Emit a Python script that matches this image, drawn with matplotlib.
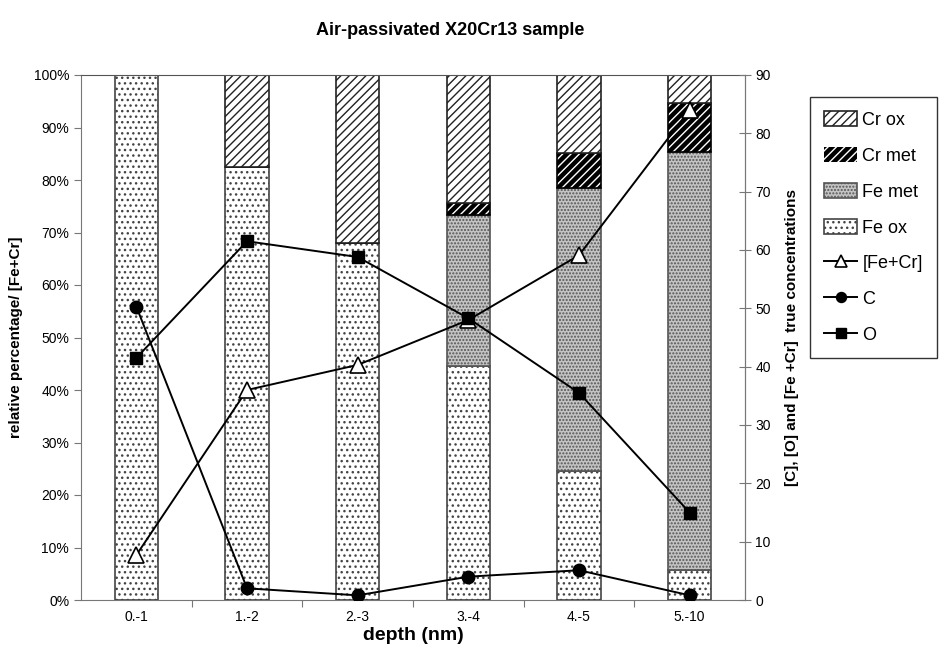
import numpy as np
import matplotlib.pyplot as plt
from matplotlib.ticker import PercentFormatter, MultipleLocator

plt.rcParams['font.family'] = ['Liberation Sans', 'DejaVu Sans']
plt.rcParams['hatch.linewidth'] = 1.0

# depth intervals
depths = ['0.-1', '1.-2', '2.-3', '3.-4', '4.-5', '5.-10']

# relative percentages (stacked, bottom to top)
fe_ox = [100.0, 82.5, 68.0, 44.5, 24.5, 5.7]
fe_met = [0.0, 0.0, 0.0, 28.8, 54.0, 79.7]
cr_met = [0.0, 0.0, 0.0, 2.3, 6.7, 9.3]
cr_ox = [0.0, 17.5, 32.0, 24.4, 14.8, 5.3]

# true concentrations (right axis)
fe_cr = [7.7, 36.0, 40.3, 48.0, 59.1, 84.0]
conc_c = [50.3, 2.0, 0.8, 4.0, 5.1, 0.8]
conc_o = [41.5, 61.5, 58.8, 48.3, 35.5, 15.0]

x = np.arange(len(depths))
w = 0.39

fig = plt.figure(figsize=(9.42, 6.57), dpi=100)
ax = fig.add_axes([81/942, 57/657, 664/942, 525/657])

b0 = np.zeros(len(x))
h_feox = ax.bar(x, fe_ox, w, bottom=b0, facecolor='white', edgecolor='#444444',
                hatch='...', linewidth=1.2, label='Fe ox')
b0 = b0 + fe_ox
h_femet = ax.bar(x, fe_met, w, bottom=b0, facecolor='#c4c4c4', edgecolor='#555555',
                 hatch='.....', linewidth=1.2, label='Fe met')
b0 = b0 + fe_met
# Cr met: black with white hatch, outline drawn separately
h_crmet = ax.bar(x, cr_met, w, bottom=b0, facecolor='black', edgecolor='white',
                 hatch='////', linewidth=0, label='Cr met')
ax.bar(x, cr_met, w, bottom=b0, facecolor='none', edgecolor='black', linewidth=1.2)
b0 = b0 + cr_met
h_crox = ax.bar(x, cr_ox, w, bottom=b0, facecolor='white', edgecolor='#222222',
                hatch='////', linewidth=1.2, label='Cr ox')

ax.set_xlim(-0.5, len(x) - 0.5)
ax.set_ylim(0, 100)
ax.yaxis.set_major_locator(MultipleLocator(10))
ax.yaxis.set_major_formatter(PercentFormatter(decimals=0))
ax.set_xticks(np.arange(len(x) - 1) + 0.5)
ax.set_xticklabels([])
ax.set_xticks(x, minor=True)
ax.set_xticklabels(depths, minor=True)
ax.tick_params(axis='x', which='minor', length=0, pad=7, labelsize=10)
ax.tick_params(axis='x', which='major', length=5, direction='out', color='#777777')
ax.tick_params(axis='y', length=5, direction='out', labelsize=10, color='#777777')
for s in ['left', 'bottom', 'right']:
    ax.spines[s].set_color('#777777')
ax.spines['top'].set_color('#555555')
ax.set_ylabel('relative percentage/ [Fe+Cr]', fontsize=11, fontweight='bold', labelpad=8)
ax.set_xlabel('depth (nm)', fontsize=14, fontweight='bold', labelpad=2)

ax2 = ax.twinx()
ax2.set_ylim(0, 90)
ax2.yaxis.set_major_locator(MultipleLocator(10))
ax2.tick_params(axis='y', length=8, direction='inout', labelsize=10, color='#777777')
ax2.spines['right'].set_color('#777777')
for s in ['left', 'bottom', 'top']:
    ax2.spines[s].set_visible(False)
l1, = ax2.plot(x, fe_cr, '-^', color='black', lw=1.4, ms=11, mfc='white', mec='black',
               mew=1.2, label='[Fe+Cr]')
l2, = ax2.plot(x, conc_c, '-o', color='black', lw=1.4, ms=9, label='C')
l3, = ax2.plot(x, conc_o, '-s', color='black', lw=1.4, ms=9, label='O')
ax2.set_ylabel('[C], [O] and [Fe +Cr]  true concentrations', fontsize=11,
               fontweight='bold', labelpad=10)

fig.suptitle('Air-passivated X20Cr13 sample', fontsize=13, fontweight='bold',
             x=450/942, y=1 - 22/657)

leg = fig.legend([h_crox, h_crmet, h_femet, h_feox, l1, l2, l3],
                 ['Cr ox', 'Cr met', 'Fe met', 'Fe ox', '[Fe+Cr]', 'C', 'O'],
                 loc='upper left', bbox_to_anchor=(810/942, 1 - 97/657),
                 borderaxespad=0, markerscale=0.8,
                 fontsize=13, frameon=True, fancybox=False, edgecolor='black',
                 handlelength=1.8, handleheight=0.9, labelspacing=1.0,
                 borderpad=0.8, handletextpad=0.3)
leg.get_frame().set_linewidth(1.0)

fig.savefig('out.png', dpi=100)
